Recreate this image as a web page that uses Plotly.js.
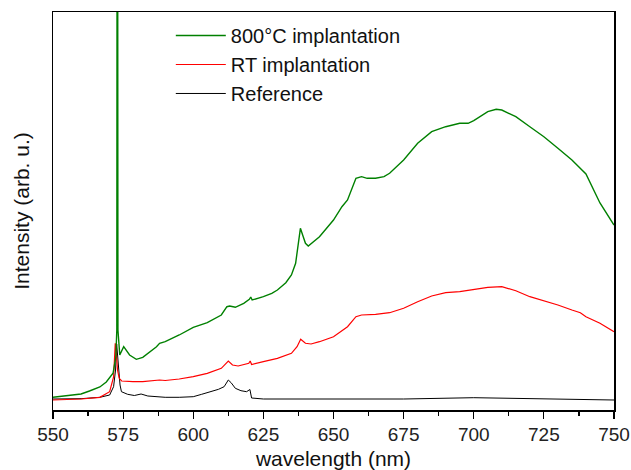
<!DOCTYPE html>
<html>
<head>
<meta charset="utf-8">
<script src="https://cdn.plot.ly/plotly-3.0.1.min.js"></script>
<style>html,body{margin:0;padding:0;background:#fff;}#chart{width:631px;height:470px;}</style>
</head>
<body>
<div id="chart"></div>
<script>
// wavelength (nm) and intensity (arb. u.)
const wlGreen = [550,555,560,563,566.7,569,571.4,572.4,572.75,572.95,573.15,573.8,575.2,577.3,579.7,582,586.9,588,590,595,600,605,610,612,613,615,618,620,620.5,621,625,628,630,633,635,636.5,637.5,638.2,639,640,641,643,645,650,653,655,658,660,662,665,668,670,675,680,685,690,695,698,700,705,708,710,715,720,725,730,735,740,745,750];
const intGreen = [12.7,14,16,19,23,28,36.7,53,80,1000,80,55,63.3,55,50.7,52.7,63.3,66.7,68.3,75,82.7,87.3,95,103.3,104,102.7,106.7,110.7,113,110,113.3,116.7,120,127.3,135,146.7,170,181.7,175,166.7,164,168.3,173.3,190,203.3,210,231.7,233.3,231.7,231.7,233.3,236.7,250,266.7,278.3,283.3,286.7,286.7,289.3,298.3,300.7,300,293.3,283.3,273.3,261.7,250,236,207,185];

const wlRed = [550,560,566.7,570.2,571.6,572.2,572.5,573,573.6,574.5,578.5,582,588,590,595,600,605,610,612.5,614,616,619.8,620.3,620.8,625,630,635,637,638.3,640,642,645,650,655,658,660,665,670,675,680,685,690,695,700,705,710,715,720,725,730,735,738,740,745,750];
const intRed = [10,11,12.7,18.3,33,66.7,60,40,31.7,29,28.3,28.3,30,29.5,31,33.3,36.7,41.7,49,45,44,46.7,49,45.5,48.3,51.7,56.7,63.3,70.7,66.7,66,68.3,73.3,83.3,93.3,95,95.7,97.3,101.7,108.3,114,117.3,118.3,120.7,122.7,123.3,119.3,113.3,109.3,105,100,97.3,93.3,86.7,78.3];

const wlRef = [550,560,566.7,570.2,571.6,572.3,572.7,573.2,573.9,574.4,576.6,579,581.4,583.8,588,590,595,600,603,606,609,611,612.5,613.5,615,617,619,620.2,620.8,625,650,675,700,725,750];
const intRef = [11,11.3,12.7,15,23.3,40,66,45,25,18.3,15.7,14.5,16,14,13.3,12.7,12.7,13.3,15.7,18.3,20.7,23.3,30,27.3,21.7,19.3,18.3,20.5,12,11,10.7,11,12.3,11.5,10];

const seriesNames = ['800°C implantation', 'RT implantation', 'Reference'];
const xTicks = [550,575,600,625,650,675,700,725,750];

const traces = [
  {x: wlRef, y: intRef, name: seriesNames[2], type: 'scatter', mode: 'lines',
   line: {color: '#000000', width: 1}},
  {x: wlRed, y: intRed, name: seriesNames[1], type: 'scatter', mode: 'lines',
   line: {color: '#ff0000', width: 1.2}},
  {x: wlGreen, y: intGreen, name: seriesNames[0], type: 'scatter', mode: 'lines',
   line: {color: '#008000', width: 1.4}}
];

const layout = {
  width: 631, height: 470,
  margin: {l: 53, r: 17, t: 12, b: 60},
  paper_bgcolor: '#ffffff', plot_bgcolor: '#ffffff',
  font: {family: 'Liberation Sans, Arial, sans-serif', color: '#222222'},
  showlegend: true,
  legend: {
    x: 0.21, y: 0.99, xanchor: 'left', yanchor: 'top',
    traceorder: 'reversed', bgcolor: 'rgba(0,0,0,0)',
    font: {size: 20, color: '#111111'}, itemwidth: 50
  },
  xaxis: {
    range: [550, 750], tickvals: xTicks, ticktext: xTicks.map(String),
    ticks: 'outside', ticklen: 7, tickwidth: 1.2, tickcolor: '#000',
    minor: {dtick: 12.5, ticks: 'outside', ticklen: 4, tickwidth: 1.2, tickcolor: '#000'},
    showline: true, mirror: true, linecolor: '#000', linewidth: 1.5,
    showgrid: false, zeroline: false,
    tickfont: {size: 19, color: '#222'},
    title: {text: 'wavelength (nm)', font: {size: 21, color: '#111'}, standoff: 8}
  },
  yaxis: {
    range: [0, 398], showticklabels: false, ticks: '',
    showline: true, mirror: true, linecolor: '#000', linewidth: 1.5,
    showgrid: false, zeroline: false,
    title: {text: 'Intensity (arb. u.)', font: {size: 21, color: '#111'}, standoff: 16}
  }
};

Plotly.newPlot('chart', traces, layout, {displayModeBar: false, staticPlot: true});
</script>
</body>
</html>
